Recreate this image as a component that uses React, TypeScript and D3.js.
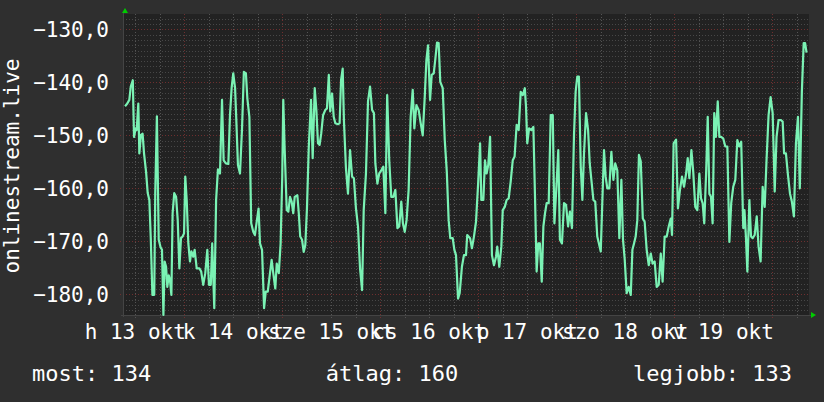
import React from 'react';
import * as d3 from 'd3';

const W = 824;
const H = 402;
const START = new Date(2014, 9, 13, 9, 0, 0);
const END = new Date(2014, 9, 20, 9, 0, 0);

// [hours since START, value]
const series: [number, number][] = [
  [0.5,-144.5],[1.05,-144.0],[1.55,-143.3],[1.9,-140.8],[2.4,-139.6],[2.7,-150.3],[3.1,-148.7],[3.35,-149.0],[3.75,-144.0],[4.0,-153.4],[4.4,-149.9],[4.8,-149.7],[5.15,-153.4],[5.65,-156.9],[6.05,-160.9],[6.45,-162.2],[6.8,-169.4],[7.2,-180.1],[7.65,-180.1],[7.9,-160.9],[8.3,-146.4],[8.75,-169.7],[9.2,-171.1],[9.55,-171.6],[9.9,-183.9],[10.2,-173.8],[10.55,-174.8],[10.85,-178.6],[11.2,-176.4],[11.5,-177.3],[11.85,-180.1],[12.15,-164.7],[12.55,-160.9],[13.0,-161.6],[13.4,-166.0],[13.8,-175.1],[14.2,-169.4],[14.6,-169.1],[14.95,-168.5],[15.25,-157.8],[15.6,-162.2],[16.0,-170.4],[16.4,-173.8],[16.75,-171.9],[17.2,-172.9],[17.55,-171.6],[18.05,-175.1],[18.7,-175.1],[19.15,-175.7],[19.65,-178.2],[20.15,-176.0],[20.65,-171.6],[21.05,-178.2],[21.5,-178.2],[21.85,-170.4],[22.35,-182.6],[22.8,-162.2],[23.25,-156.4],[23.75,-157.2],[24.25,-143.3],[24.65,-154.7],[25.2,-155.3],[25.8,-155.4],[26.2,-146.2],[26.6,-141.1],[27.0,-138.3],[27.45,-141.1],[27.75,-147.1],[28.15,-155.6],[28.65,-157.2],[29.15,-148.7],[29.6,-138.0],[30.1,-138.3],[30.45,-143.0],[30.95,-146.5],[31.4,-166.6],[31.9,-168.2],[32.3,-168.8],[32.75,-166.3],[33.2,-163.8],[33.55,-170.4],[34.05,-171.6],[34.55,-182.6],[34.95,-179.5],[35.45,-179.5],[36.0,-176.0],[36.4,-173.5],[36.8,-176.0],[37.3,-178.9],[37.65,-174.2],[38.15,-176.0],[38.6,-170.4],[39.0,-157.8],[39.25,-143.3],[39.6,-152.8],[40.1,-164.1],[40.5,-164.4],[40.9,-161.6],[41.3,-162.5],[41.7,-164.7],[42.05,-161.6],
  [42.7,-161.3],[43.05,-164.7],[43.4,-169.1],[43.85,-169.7],[44.25,-172.0],[44.65,-170.7],[45.05,-163.8],[45.5,-152.1],[46.05,-143.3],[46.45,-154.3],[46.95,-141.1],[47.35,-145.2],[47.75,-151.5],[48.15,-151.8],[48.55,-149.6],[49.0,-146.2],[49.55,-145.2],[49.95,-144.9],[50.4,-138.6],[50.75,-145.5],[51.2,-142.1],[51.6,-146.5],[52.0,-147.7],[52.65,-147.9],[53.05,-147.7],[53.4,-139.6],[53.8,-137.4],[54.1,-147.1],[54.6,-156.2],[55.1,-161.0],[55.6,-152.8],[56.1,-157.8],[56.55,-158.1],[57.05,-163.8],[57.55,-167.2],[58.05,-175.1],[58.55,-179.2],[58.95,-164.1],[59.5,-157.2],[60.0,-143.6],[60.5,-140.8],[61.0,-145.2],[61.45,-145.8],[61.8,-155.3],[62.3,-159.1],[62.75,-157.2],[63.25,-156.6],[63.75,-155.9],[64.25,-164.7],[64.7,-142.4],[65.2,-154.7],[65.7,-161.6],[66.2,-161.6],[66.7,-160.3],[67.2,-167.5],[67.65,-167.2],[68.15,-162.5],[68.55,-166.6],[69.0,-168.2],[69.45,-166.0],[69.95,-160.3],[70.45,-146.5],[70.95,-141.4],[71.35,-148.7],[71.85,-144.3],[72.4,-145.2],[72.9,-147.7],[73.4,-150.0],[73.9,-142.7],[74.3,-135.8],[74.7,-133.0],[75.2,-143.3],[75.6,-138.6],[76.1,-138.3],[76.5,-135.5],[76.9,-132.5],[77.3,-132.6],[77.7,-139.9],[78.3,-141.1],[78.8,-150.9],[79.3,-156.9],[79.75,-166.0],[80.15,-169.4],[80.75,-169.4],[81.15,-171.6],[81.55,-172.6],[82.05,-180.8],[82.45,-179.8],[83.0,-174.8],[83.5,-172.6],[84.0,-172.6],
  [84.3,-168.8],[85.0,-169.4],[85.45,-171.3],[85.95,-169.1],[86.45,-166.3],[86.95,-159.4],[87.45,-151.5],[87.75,-162.2],[88.25,-162.2],[88.65,-154.7],[89.05,-157.2],[89.45,-155.6],[89.9,-150.3],[90.35,-172.6],[90.85,-174.5],[91.35,-172.9],[91.65,-171.0],[92.15,-174.8],[92.65,-171.0],[93.0,-164.1],[93.5,-163.5],[93.95,-162.2],[94.45,-161.9],[94.95,-158.7],[95.45,-154.7],[95.9,-154.0],[96.4,-148.0],[96.9,-149.0],[97.4,-141.8],[97.9,-142.4],[98.4,-141.1],[98.7,-144.6],[99.0,-151.5],[99.45,-148.7],[100.0,-149.0],[100.5,-148.4],[100.9,-161.6],[101.3,-175.7],[101.7,-170.4],[102.1,-170.4],[102.55,-177.6],[102.95,-167.2],[103.35,-164.7],[103.75,-162.8],[104.25,-162.8],[104.75,-146.2],[105.25,-146.2],[105.65,-166.6],[106.1,-160.3],[106.6,-152.8],[107.0,-169.7],[107.5,-170.4],[108.0,-162.8],[108.5,-163.1],[109.0,-167.2],[109.45,-164.4],[109.95,-167.5],[110.45,-149.9],[110.85,-141.8],[111.25,-138.9],[111.65,-138.9],[112.1,-155.9],[112.5,-162.2],[112.9,-153.4],[113.4,-145.8],[113.9,-149.0],[114.3,-155.3],[114.8,-159.1],[115.2,-162.2],[115.65,-162.5],[116.15,-169.1],[116.55,-170.4],[117.0,-171.9],[117.4,-162.2],[117.8,-152.8],[118.2,-157.8],[118.6,-160.0],[119.1,-160.0],[119.6,-153.1],[120.1,-158.4],[120.55,-155.3],[121.05,-156.6],[121.55,-169.4],[122.05,-158.4],[122.45,-169.7],[122.85,-173.2],[123.35,-179.8],[123.85,-178.6],[124.35,-180.1],[124.75,-171.6],[125.15,-170.4],[125.55,-169.1],[125.95,-166.0],[126.35,-153.7],
  [126.8,-154.9],[127.3,-165.7],[127.75,-166.3],[128.25,-171.6],[128.75,-174.5],[129.25,-172.3],[129.7,-174.2],[130.2,-173.8],[130.7,-178.6],[131.2,-178.2],[131.7,-172.3],[132.15,-177.6],[132.65,-169.1],[133.15,-169.1],[133.65,-167.2],[134.15,-165.7],[134.45,-168.8],[134.85,-151.5],[135.45,-150.8],[135.9,-163.8],[136.4,-160.3],[136.9,-157.8],[137.4,-159.7],[137.9,-157.2],[138.3,-154.3],[138.7,-158.1],[139.2,-152.8],[139.65,-156.9],[140.15,-163.5],[140.65,-164.1],[141.15,-157.2],[141.55,-161.9],[141.95,-162.8],[142.35,-166.6],[142.8,-157.2],[143.2,-146.5],[143.6,-161.0],[144.0,-161.6],[144.4,-166.6],[144.8,-145.8],[145.2,-150.3],[145.65,-143.6],[146.05,-150.3],[146.5,-150.3],[147.0,-150.6],[147.5,-152.1],[148.0,-152.1],[148.5,-170.1],[148.95,-162.8],[149.45,-159.7],[149.95,-158.4],[150.45,-150.9],[150.9,-152.1],[151.4,-151.2],[151.9,-167.5],[152.2,-164.1],[152.55,-169.1],[152.9,-175.7],[153.4,-162.2],[153.8,-169.1],[154.2,-169.4],[154.7,-168.8],[155.2,-165.3],[155.65,-171.0],[156.15,-173.8],[156.65,-159.7],[157.15,-163.5],[157.6,-154.7],[158.1,-146.2],[158.6,-142.8],[159.1,-145.8],[159.6,-160.6],[160.05,-150.3],[160.55,-147.1],[161.05,-147.1],[161.55,-147.4],[161.9,-153.4],[162.35,-153.4],[162.85,-157.5],[163.35,-161.0],[163.8,-162.5],[164.3,-165.3],[164.8,-151.5],[165.3,-146.5],[165.75,-160.0],[166.25,-141.8],[166.7,-132.6],[167.05,-132.6],[167.4,-134.4],
];

const yDomain = [-183.9, -127.1];
const yMajorTicks = [-130, -140, -150, -160, -170, -180];
const dayLabels = ['h 13 okt', 'k 14 okt', 'sze 15 okt', 'cs 16 okt', 'p 17 okt', 'szo 18 okt', 'v 19 okt'];
const labelDates = [13, 14, 15, 16, 17, 18, 19];
const legendLabels = ['most: 134', 'átlag: 160', 'legjobb: 133'];
const yTitle = 'onlinestream.live';

const PL = 123, PR = 809, PT = 14, PB = 315;
const FONT = 'DejaVu Sans Mono';
const FS = 21;
const FS_LEGEND = 22;

const huLocale = d3.formatLocale({ decimal: ',', thousands: ' ', grouping: [3], currency: ['', ' Ft'] });
const fmtY = huLocale.format('.1f');

export default function App() {
  const x = d3.scaleTime().domain([START, END]).range([PL, PR]);
  const y = d3.scaleLinear().domain(yDomain).range([PB, PT]);
  const toDate = (h: number) => new Date(START.getTime() + h * 3600 * 1000);

  const line = d3.line<[number, number]>()
    .x(d => x(toDate(d[0])))
    .y(d => y(d[1]));

  const minorY = d3.range(Math.ceil(yDomain[0]), Math.floor(yDomain[1]) + 1).filter(v => v % 10 !== 0);
  const hourTicks = d3.timeHour.every(6)!.range(START, END);
  const minorX = hourTicks.filter(t => t.getHours() !== 0);
  const majorX = hourTicks.filter(t => t.getHours() === 0);

  const grayH = '#474747';
  const grayV = '#545454';
  const red = '#6e2f2f';

  return (
    <svg width={W} height={H} style={{ position: 'absolute', left: 0, top: 0 }} fontFamily={FONT}>
      <rect x={0} y={0} width={W} height={H} fill="#2f2f2f" />
      <rect x={PL} y={PT} width={PR - PL} height={PB - PT} fill="#222222" />
      <g shapeRendering="crispEdges">
        {minorY.map(v => (
          <line key={'my' + v} x1={PL} x2={PR} y1={Math.round(y(v)) + 0.5} y2={Math.round(y(v)) + 0.5} stroke={grayH} strokeDasharray="1,2" />
        ))}
        {minorX.map(t => (
          <line key={'mx' + t.getTime()} x1={Math.round(x(t)) + 0.5} x2={Math.round(x(t)) + 0.5} y1={PT} y2={PB + 3} stroke={grayV} strokeDasharray="1,2" />
        ))}
        {yMajorTicks.map(v => (
          <line key={'My' + v} x1={PL - 3} x2={PR} y1={Math.round(y(v)) + 0.5} y2={Math.round(y(v)) + 0.5} stroke={red} strokeDasharray="1,2" />
        ))}
        {majorX.map(t => (
          <line key={'Mx' + t.getTime()} x1={Math.round(x(t)) + 0.5} x2={Math.round(x(t)) + 0.5} y1={PT} y2={PB + 3} stroke={red} strokeDasharray="1,2" />
        ))}
        <line x1={PL - 2} x2={PR + 2} y1={PB + 0.5} y2={PB + 0.5} stroke="#444" />
        <line x1={PL + 0.5} x2={PL + 0.5} y1={PT - 2} y2={PB + 2} stroke="#444" />
      </g>
      <path d={line(series) || ''} fill="none" stroke="#7af2b4" strokeWidth={2.2} strokeLinejoin="round" />
      <polygon points={`${PL - 1},${PT - 1} ${PL + 5},${PT - 1} ${PL + 2},${PT - 6}`} fill="#00cc00" />
      <polygon points={`${PR + 2},${PB - 3} ${PR + 2},${PB + 3} ${PR + 7},${PB}`} fill="#00cc00" />
      {yMajorTicks.map(v => (
        <text key={'yl' + v} x={109} y={y(v) + 7.5} textAnchor="end" fill="#ffffff" fontSize={FS}>{fmtY(v)}</text>
      ))}
      {dayLabels.map((lab, i) => (
        <text key={'xl' + i} x={x(new Date(2014, 9, labelDates[i], 12))} y={338.5} textAnchor="middle" fill="#ffffff" fontSize={FS}>{lab}</text>
      ))}
      <text transform="translate(19,166) rotate(-90)" textAnchor="middle" fill="#ffffff" fontSize={FS}>{yTitle}</text>
      <text x={32} y={381} textAnchor="start" fill="#ffffff" fontSize={FS_LEGEND}>{legendLabels[0]}</text>
      <text x={392} y={381} textAnchor="middle" fill="#ffffff" fontSize={FS_LEGEND}>{legendLabels[1]}</text>
      <text x={792} y={381} textAnchor="end" fill="#ffffff" fontSize={FS_LEGEND}>{legendLabels[2]}</text>
    </svg>
  );
}
